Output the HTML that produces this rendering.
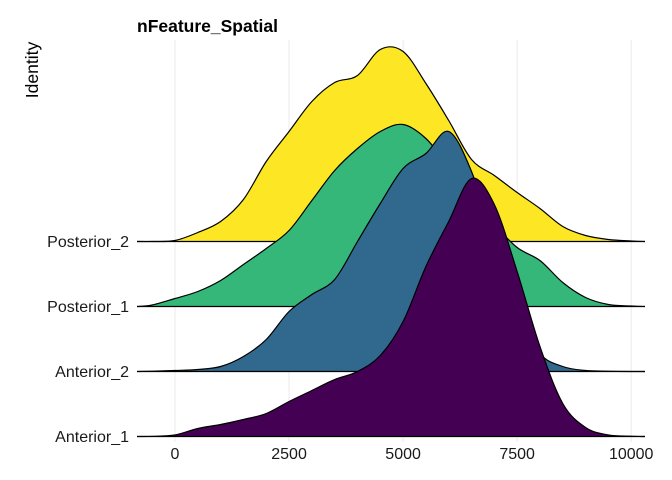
<!DOCTYPE html>
<html><head><meta charset="utf-8"><style>
body{margin:0;background:#fff;}
svg{display:block;font-family:"Liberation Sans",sans-serif;}
</style></head><body>
<svg id="chart" width="672" height="480" viewBox="0 0 672 480">
<text x="137" y="32" font-size="17.5" font-weight="bold" fill="#000">nFeature_Spatial</text>
<text transform="translate(38,70) rotate(-90)" text-anchor="middle" font-size="17.5" fill="#000">Identity</text>
<g id="grid"></g><g id="ridges"></g><g id="labels"></g>
</svg>
<script>
const xGrid = [-833,-500,0,500,1000,1500,2000,2500,3000,3500,4000,4500,5000,5500,6000,6500,7000,7500,8000,8500,9000,9500,10000,10307];
const categories = ["Posterior_2","Posterior_1","Anterior_2","Anterior_1"];
const colors = ["#FDE725","#35B779","#31688E","#440154"];
const densPosterior2 = [0,0,1,9,20,42,80,110,140,159,166,192,190,158,121,82,66,49,33,15,6,2,0.5,0];
const densPosterior1 = [0,1.5,8,15,26,42,58,76,106,136,158,175,182,168,140,110,82,59,46,24,9,2,0.5,0];
const densAnterior2 = [0,0.3,1,2,5,15,32,60,77,92,130,168,203,218,240,200,130,60,18,5,1,0.3,0,0];
const densAnterior1 = [0,0.2,1.5,8,12,17,23,35,46,57,65,81,115,170,215,258,232,165,90,33,9,1.5,0.3,0];
const series = [densPosterior2,densPosterior1,densAnterior2,densAnterior1];
const xTicks = [0,2500,5000,7500,10000];
const xTickLabels = ["0","2500","5000","7500","10000"];

const NS="http://www.w3.org/2000/svg";
const xS = v => 175 + v*0.04562;
const base = i => 241.5 + i*65;
const yS = (d,i) => base(i) - d;

const grid=document.getElementById('grid');
xTicks.forEach((t,k)=>{
  const l=document.createElementNS(NS,'line');
  l.setAttribute('x1',xS(t));l.setAttribute('x2',xS(t));
  l.setAttribute('y1',40);l.setAttribute('y2',442);
  l.setAttribute('stroke','#ebebeb');l.setAttribute('stroke-width','1');
  
  
  grid.appendChild(l);
  const tx=document.createElementNS(NS,'text');
  tx.setAttribute('x',xS(t));tx.setAttribute('y',459);
  tx.setAttribute('text-anchor','middle');tx.setAttribute('font-size','16');tx.setAttribute('fill','#1a1a1a');
  tx.textContent=xTickLabels[k];
  
  
  grid.appendChild(tx);
});

function smooth(pts){
  let d='M'+pts[0][0]+','+pts[0][1];
  for(let i=0;i<pts.length-1;i++){
    const p0=pts[Math.max(0,i-1)],p1=pts[i],p2=pts[i+1],p3=pts[Math.min(pts.length-1,i+2)];
    const c1x=p1[0]+(p2[0]-p0[0])/6,c1y=p1[1]+(p2[1]-p0[1])/6;
    const c2x=p2[0]-(p3[0]-p1[0])/6,c2y=p2[1]-(p3[1]-p1[1])/6;
    d+=' C'+c1x.toFixed(2)+','+c1y.toFixed(2)+' '+c2x.toFixed(2)+','+c2y.toFixed(2)+' '+p2[0].toFixed(2)+','+p2[1].toFixed(2);
  }
  return d;
}
const ridges=document.getElementById('ridges');
const labels=document.getElementById('labels');
series.forEach((dens,i)=>{
  const pts=xGrid.map((v,k)=>[xS(v)<137?137:(xS(v)>645?645:xS(v)), yS(dens[k],i)]);
  const top=smooth(pts);
  const fill=document.createElementNS(NS,'path');
  fill.setAttribute('d',top+' L645,'+base(i)+' L137,'+base(i)+' Z');
  fill.setAttribute('fill',colors[i]);
  
  
  ridges.appendChild(fill);
  const line=document.createElementNS(NS,'path');
  line.setAttribute('d',top);
  line.setAttribute('fill','none');line.setAttribute('stroke','#000');line.setAttribute('stroke-width','1.2');
  
  
  ridges.appendChild(line);
  const bl=document.createElementNS(NS,'line');
  bl.setAttribute('x1',137);bl.setAttribute('x2',645);bl.setAttribute('y1',base(i));bl.setAttribute('y2',base(i));
  bl.setAttribute('stroke','#000');bl.setAttribute('stroke-width','1.2');
  
  
  ridges.appendChild(bl);
  const t=document.createElementNS(NS,'text');
  t.setAttribute('x',129);t.setAttribute('y',base(i)+5.5);
  t.setAttribute('text-anchor','end');t.setAttribute('font-size','16');t.setAttribute('fill','#1a1a1a');
  t.textContent=categories[i];
  
  
  labels.appendChild(t);
});
</script>
</body></html>
